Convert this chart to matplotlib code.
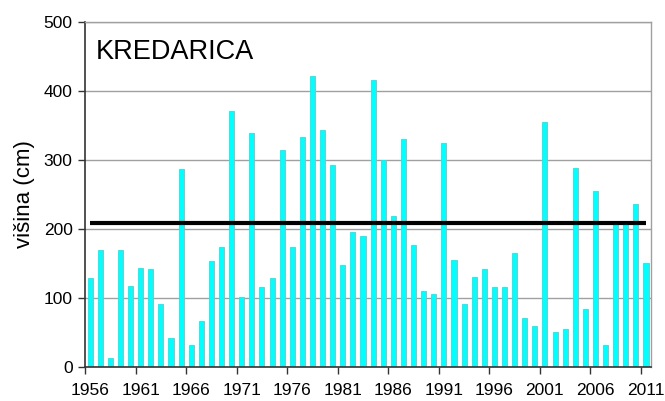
import matplotlib
matplotlib.use("Agg")
import matplotlib.pyplot as plt
import numpy as np

plt.rcParams['font.family'] = ['Liberation Sans', 'DejaVu Sans']

years = list(range(1956, 2012))
heights = [128, 170, 13, 170, 117, 143, 141, 91, 41, 287,
           31, 66, 153, 173, 372, 101, 339, 115, 128, 315,
           173, 333, 422, 343, 293, 147, 196, 190, 416, 300,
           219, 331, 176, 110, 105, 325, 155, 91, 130, 141,
           115, 115, 165, 70, 59, 356, 50, 55, 289, 84,
           255, 31, 208, 208, 236, 151]
average = 208.5
tick_years = list(range(1956, 2012, 5))

fig = plt.figure(figsize=(6.65, 4.01), dpi=100)
ax = fig.add_axes([0.128, 0.086, 0.851, 0.858])

x = np.arange(len(years))
ax.bar(x, heights, width=0.5, color='#00FFFF', edgecolor='#5CCCCC', linewidth=0.6, zorder=2)
ax.plot([x[0], x[-1]], [average, average], color='black', linewidth=3.0, zorder=3, solid_capstyle='butt')

ax.set_xlim(-0.5, len(years) - 0.5)
ax.set_ylim(0, 500)
ax.set_yticks([0, 100, 200, 300, 400, 500])
ax.yaxis.grid(True, color='#A0A0A0', linewidth=1)
ax.set_axisbelow(True)

# x ticks between categories, labels centred on categories
major = [years.index(y) - 0.5 for y in tick_years]
ax.set_xticks(major)
ax.set_xticklabels([])
ax.set_xticks([years.index(y) for y in tick_years], minor=True)
ax.set_xticklabels([str(y) for y in tick_years], minor=True)
ax.tick_params(axis='x', which='minor', length=0, labelsize=12.5, pad=12)
ax.tick_params(axis='x', which='major', length=5, width=1, color='#333333', direction='out')
ax.tick_params(axis='y', length=5, width=1, color='#333333', labelsize=12.5, pad=4)

for s in ['left', 'bottom']:
    ax.spines[s].set_color('#333333')
    ax.spines[s].set_linewidth(1.2)
for s in ['top', 'right']:
    ax.spines[s].set_color('#A0A0A0')
    ax.spines[s].set_linewidth(1)

ax.set_ylabel('višina (cm)', fontsize=16, labelpad=6)
ax.text(0.018, 0.953, 'KREDARICA', transform=ax.transAxes, fontsize=19.5, va='top', ha='left')

fig.savefig('out.png', dpi=100)
